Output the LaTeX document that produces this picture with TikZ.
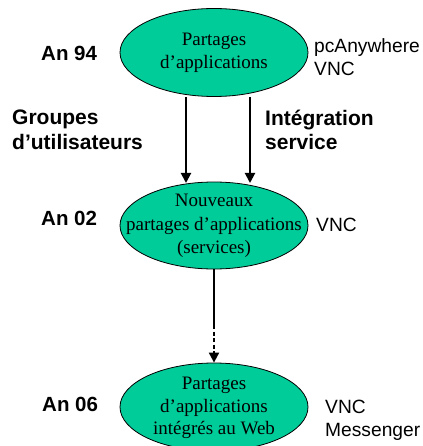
\documentclass[tikz,border=0pt]{standalone}
\usepackage{fontspec}
\setmainfont{Liberation Serif}
\newfontfamily\arial{Liberation Sans}
\usetikzlibrary{shapes.geometric,arrows.meta}
\definecolor{teal1}{HTML}{00CC99}
\tikzset{
  bubble/.style={ellipse, draw=black, line width=0.8pt, fill=teal1, minimum width=188pt, minimum height=88pt, inner sep=0pt},
  btext/.style={align=center, inner sep=0pt, font=\fontsize{19}{23.5}\selectfont},
  yearlab/.style={font=\arial\bfseries\fontsize{20.5}{23}\selectfont, anchor=west, inner sep=0pt},
  sidelab/.style={font=\arial\bfseries\fontsize{21}{24.5}\selectfont, anchor=west, inner sep=0pt, align=left},
  toollab/.style={font=\arial\fontsize{19.2}{23}\selectfont, anchor=west, inner sep=0pt, align=left},
  conn/.style={line width=2pt, -{Triangle[length=10pt,width=10pt]}}
}
\begin{document}
\begin{tikzpicture}[x=1pt,y=-1pt]
\useasboundingbox (0,0) rectangle (422,446);
\node[bubble] (e1) at (214,52.5) {};
\node[btext] (e1t) at (214,53) {Partages\\d’applications};
\node[bubble, minimum height=87pt] (e2) at (214,225.5) {};
\node[btext] (e2t) at (214,226) {Nouveaux\\partages d’applications\\(services)};
\node[bubble] (e3) at (214,407) {};
\node[btext, font=\fontsize{19}{22.5}\selectfont] (e3t) at (214,408) {Partages\\d’applications\\intégrés au Web};
\node[yearlab] (y1) at (41,53) {An 94};
\node[yearlab] (y2) at (41,218) {An 02};
\node[yearlab] (y3) at (42,404) {An 06};
\node[sidelab] (g) at (12,130) {Groupes\\d’utilisateurs};
\node[sidelab] (i) at (265,130) {Intégration\\service};
\node[toollab] (t1) at (314,57) {pcAnywhere\\VNC};
\node[toollab] (t2) at (316,225) {VNC};
\node[toollab] (t3) at (325,420) {VNC\\Messenger};
\coordinate (a1s) at (186,97);
\coordinate (a1e) at (186,183);
\coordinate (a2s) at (250,97);
\coordinate (a2e) at (250,183);
\draw[conn] (a1s) -- (a1e);
\draw[conn] (a2s) -- (a2e);
\coordinate (m) at (214,325);
\draw[line width=2pt] (e2.south) -- (m);
\draw[conn, dash pattern=on 4pt off 2.5pt] (m) -- (e3.north);
\end{tikzpicture}
\end{document}
